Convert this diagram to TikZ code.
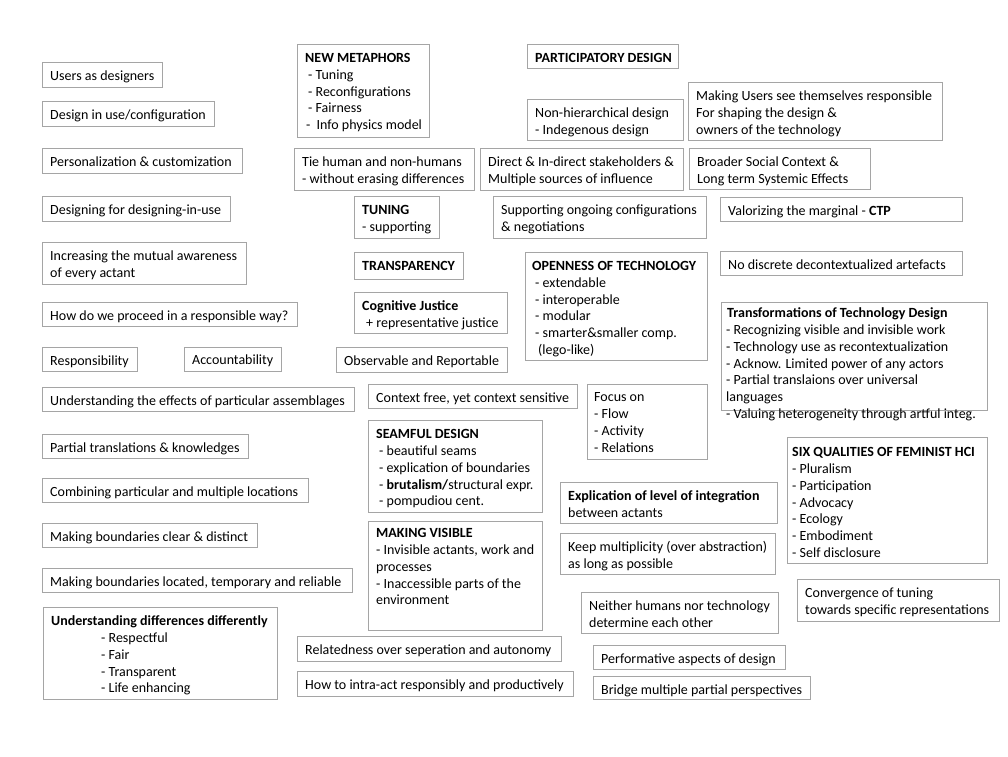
\documentclass[tikz,border=0pt]{standalone}
\usepackage{fontspec}
\setmainfont{Carlito}
\definecolor{framegray}{RGB}{165,165,165}
\tikzset{
  frame/.style={draw=framegray, line width=1pt, inner sep=0pt, outer sep=0pt, anchor=north west},
  txt/.style={inner sep=0pt, anchor=north west, align=left, font=\fontsize{14}{16.7}\selectfont}
}
% #1 text shift, #2 name, #3 left, #4 top, #5 right, #6 bottom, #7 text
\newcommand\bx[7][8pt,-7pt]{%
  \node[frame, minimum width={#5-#3}, minimum height={#6-#4}] (#2) at (#3,#4) {};
  \node[txt] (#2-t) at ([shift={(#1)}]#2.north west) {\strut #7};}
\begin{document}
\begin{tikzpicture}[x=1pt,y=-1pt]
\fill[white] (0,0) rectangle (1008,756);
\useasboundingbox (0,0) rectangle (1008,756);
% left column
\bx{users}{42}{62}{162}{87}{Users as designers}
\bx{design}{42}{101}{214}{126}{Design in use/configuration}
\bx{person}{42}{148}{242}{173}{Personalization \& customization}
\bx{desfor}{42}{196}{230}{221}{Designing for designing-in-use}
\bx{mutual}{42}{242}{246}{284}{Increasing the mutual awareness\\of every actant}
\bx{proceed}{42}{302}{297}{326}{How do we proceed in a responsible way?}
\bx{respons}{42}{347}{137}{371}{Responsibility}
\bx[8pt,-6pt]{account}{184}{347}{281}{371}{Accountability}
\bx{effects}{42}{387}{354}{411}{Understanding the effects of particular assemblages}
\bx{partial}{42}{434}{248}{458}{Partial translations \& knowledges}
\bx{combining}{42}{478}{308}{502}{Combining particular and multiple locations}
\bx{clear}{42}{523}{257}{547}{Making boundaries clear \& distinct}
\bx{located}{42}{568}{352}{592}{Making boundaries located, temporary and reliable}
\bx{diff}{43}{607}{277}{699}{\textbf{Understanding differences differently}\\\hspace*{50pt}- Respectful\\\hspace*{50pt}- Fair\\\hspace*{50pt}- Transparent\\\hspace*{50pt}- Life enhancing}
% middle column
\bx{newmeta}{297}{44}{429}{137}{\textbf{NEW METAPHORS}\\\hspace*{3pt}- Tuning\\\hspace*{3pt}- Reconfigurations\\\hspace*{3pt}- Fairness\\\hspace*{1pt}-\hspace*{3pt} Info physics model}
\bx{tie}{294}{148}{474}{190}{Tie human and non-humans\\- without erasing differences}
\bx{tuning}{354}{196}{439}{238}{\textbf{TUNING}\\- supporting}
\bx{transp}{354}{252}{463}{279}{\textbf{TRANSPARENCY}}
\bx{cogn}{354}{292}{507}{333}{\textbf{Cognitive Justice}\\\hspace*{4pt}+ representative justice}
\bx{observ}{336}{347}{507}{372}{Observable and Reportable}
\bx{context}{368}{384}{577}{408}{Context free, yet context sensitive}
\bx{seamful}{368}{420}{542}{512}{\textbf{SEAMFUL DESIGN}\\\hspace*{3pt}- beautiful seams\\\hspace*{3pt}- explication of boundaries\\\hspace*{3pt}- \textbf{brutalism/}structural expr.\\\hspace*{3pt}- pompudiou cent.}
\bx[8pt,-5pt]{making}{368}{521}{542}{630}{\textbf{MAKING VISIBLE}\\- Invisible actants, work and\\processes\\- Inaccessible parts of the\\environment}
\bx{related}{297}{636}{561}{661}{Relatedness over seperation and autonomy}
\bx{intra}{297}{671}{573}{696}{How to intra-act responsibly and productively}
% centre-right column
\bx{partic}{527}{44}{678}{68}{\textbf{PARTICIPATORY DESIGN}}
\bx{nonhier}{527}{99}{683}{140}{Non-hierarchical design\\- Indegenous design}
\bx{direct}{480}{148}{683}{190}{Direct \& In-direct stakeholders \&\\Multiple sources of influence}
\bx{support}{493}{196}{706}{238}{Supporting ongoing configurations\\\& negotiations}
\bx[7pt,-7pt]{open}{525}{252}{707}{360}{\textbf{OPENNESS OF TECHNOLOGY}\\\hspace*{3pt}- extendable\\\hspace*{3pt}- interoperable\\\hspace*{3pt}- modular\\\hspace*{3pt}- smarter\&smaller comp.\\\hspace*{6pt}(lego-like)}
\bx[7pt,-6pt]{focus}{587}{384}{707}{459}{Focus on\\- Flow\\- Activity\\- Relations}
\bx{explic}{560}{482}{777}{523}{\textbf{Explication of level of integration}\\between actants}
\bx{keep}{560}{533}{775}{574}{Keep multiplicity (over abstraction)\\as long as possible}
\bx{neither}{581}{592}{778}{633}{Neither humans nor technology\\determine each other}
\bx{perf}{593}{645}{785}{669}{Performative aspects of design}
\bx{bridge}{593}{676}{810}{699}{Bridge multiple partial perspectives}
% right column
\bx{makingusers}{688}{82}{942}{140}{Making Users see themselves responsible\\For shaping the design \&\\owners of the technology}
\bx{broader}{689}{148}{870}{189}{Broader Social Context \&\\Long term Systemic Effects}
\bx{valor}{720}{197}{962}{221}{Valorizing the marginal - \textbf{CTP}}
\bx{nodisc}{720}{251}{962}{275}{No discrete decontextualized artefacts}
\bx[5pt,-4pt]{transf}{721}{302}{987}{410}{\hspace*{1pt}\textbf{Transformations of Technology Design}\\- Recognizing visible and invisible work\\- Technology use as recontextualization\\- Acknow. Limited power of any actors\\- Partial translaions over universal\\languages\\- Valuing heterogeneity through artful integ.}
\bx[5pt,-8pt]{six}{787}{437}{987}{563}{\textbf{SIX QUALITIES OF FEMINIST HCI}\\- Pluralism\\- Participation\\- Advocacy\\- Ecology\\- Embodiment\\- Self disclosure}
\bx{converg}{797}{579}{999}{621}{Convergence of tuning\\towards specific representations}
\end{tikzpicture}
\end{document}
